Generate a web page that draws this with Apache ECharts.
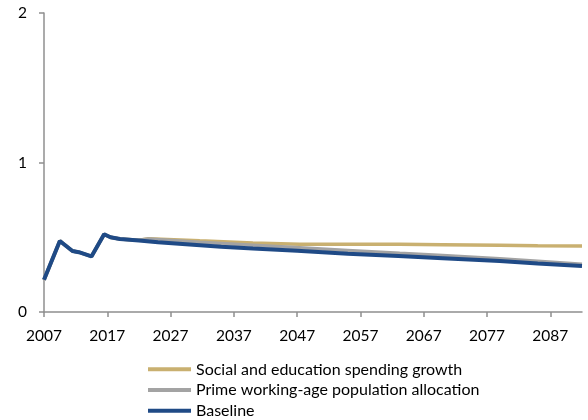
<!DOCTYPE html>
<html>
<head>
<meta charset="utf-8">
<script src="https://cdn.jsdelivr.net/npm/echarts@6/dist/echarts.min.js"></script>
<style>
html,body{margin:0;padding:0;background:#fff;}
#chart{width:588px;height:420px;}
</style>
</head>
<body>
<div id="chart"></div>
<script>
// x positions (years) and values
var baseYears = [2007, 2009.5, 2011.5, 2012.5, 2014.5, 2016.5, 2017.5, 2019, 2022, 2025, 2030, 2035, 2040, 2047, 2055, 2063, 2070, 2079, 2085, 2092];
var baseline  = [0.215, 0.475, 0.408, 0.400, 0.372, 0.520, 0.500, 0.488, 0.478, 0.467, 0.452, 0.437, 0.424, 0.410, 0.390, 0.375, 0.360, 0.341, 0.325, 0.308];

var primeYears = [2007, 2009.5, 2011.5, 2012.5, 2014.5, 2016.5, 2017.5, 2019, 2022, 2023.5, 2031.6, 2040, 2047.4, 2055, 2063.2, 2070, 2079, 2085, 2092];
var prime      = [0.215, 0.475, 0.408, 0.400, 0.372, 0.520, 0.500, 0.488, 0.480, 0.488, 0.466, 0.447, 0.430, 0.412, 0.393, 0.378, 0.357, 0.340, 0.320];

var socialYears = [2007, 2009.5, 2011.5, 2012.5, 2014.5, 2016.5, 2017.5, 2019, 2022, 2023.5, 2031.6, 2040, 2047.4, 2055, 2063.2, 2070, 2079, 2085, 2092];
var social      = [0.215, 0.475, 0.408, 0.400, 0.372, 0.520, 0.500, 0.488, 0.480, 0.490, 0.476, 0.462, 0.453, 0.453, 0.453, 0.450, 0.446, 0.443, 0.441];

var xTicks = [2007, 2017, 2027, 2037, 2047, 2057, 2067, 2077, 2087];
var seriesNames = ['Social and education spending growth', 'Prime working-age population allocation', 'Baseline'];

function pairs(xs, ys) { return xs.map(function (x, i) { return [x, ys[i]]; }); }

var axisColor = '#8f8f8f';
var font = 'Lato';
var chart = echarts.init(document.getElementById('chart'), null, {renderer: 'canvas'});
chart.setOption({
  animation: false,
  backgroundColor: '#ffffff',
  grid: {left: 44, right: 6, top: 13, bottom: 108, containLabel: false},
  xAxis: {
    type: 'value', min: 2007, max: 2092,
    axisLine: {show: true, lineStyle: {color: axisColor, width: 1.5}},
    axisTick: {show: true, length: 5, lineStyle: {color: axisColor, width: 1.5}, customValues: xTicks},
    axisLabel: {customValues: xTicks, formatter: function (v) { return String(v); },
                color: '#000', fontFamily: font, fontSize: 15.5, margin: 16},
    splitLine: {show: false}
  },
  yAxis: {
    type: 'value', min: 0, max: 2, interval: 1,
    axisLine: {show: true, lineStyle: {color: axisColor, width: 1.5}},
    axisTick: {show: true, length: 5, lineStyle: {color: axisColor, width: 1.5}},
    axisLabel: {color: '#000', fontFamily: font, fontSize: 15.5, margin: 17},
    splitLine: {show: false}
  },
  legend: {
    orient: 'vertical', left: 148, top: 359, height: 80, padding: 0,
    itemWidth: 43, itemHeight: 4, itemGap: 0, icon: 'rect',
    textStyle: {fontFamily: font, fontSize: 16, color: '#000', lineHeight: 20.7},
    data: seriesNames
  },
  series: [
    {name: seriesNames[0], type: 'line', data: pairs(socialYears, social), showSymbol: false, symbol: 'none',
     lineStyle: {color: '#C9B070', width: 3.5}, itemStyle: {color: '#C9B070'}},
    {name: seriesNames[1], type: 'line', data: pairs(primeYears, prime), showSymbol: false, symbol: 'none',
     lineStyle: {color: '#A3A3A3', width: 3.5}, itemStyle: {color: '#A3A3A3'}},
    {name: seriesNames[2], type: 'line', data: pairs(baseYears, baseline), showSymbol: false, symbol: 'none',
     lineStyle: {color: '#1F4A86', width: 4}, itemStyle: {color: '#1F4A86'}}
  ]
});
</script>
</body>
</html>
